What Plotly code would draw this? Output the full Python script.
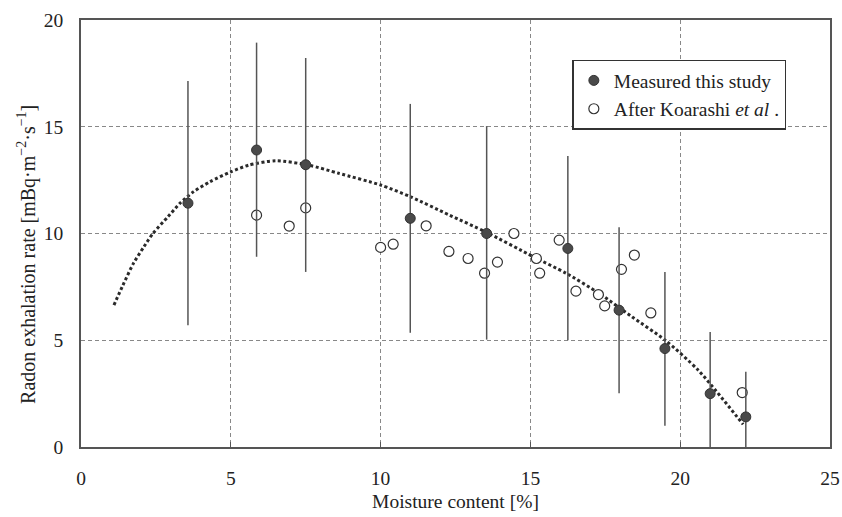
import plotly.graph_objects as go

# Measured this study
meas_x = [3.57, 5.86, 7.5, 10.99, 13.54, 16.25, 17.96, 19.49, 21.0, 22.19]
meas_y = [11.42, 13.91, 13.22, 10.71, 10.0, 9.3, 6.41, 4.61, 2.5, 1.41]
meas_err_plus = [5.72, 5.03, 5.0, 5.36, 5.03, 4.33, 3.88, 3.59, 2.89, 2.11]
meas_err_minus = [5.72, 5.0, 5.02, 5.36, 4.97, 4.3, 3.89, 3.61, 2.78, 1.69]

# After Koarashi et al.
koa_x = [5.86, 6.95, 7.5, 10.0, 10.42, 11.52, 12.28, 12.92, 13.47, 13.9, 14.45,
         15.2, 15.31, 15.96, 16.52, 17.27, 17.48, 18.04, 18.47, 19.02, 22.07]
koa_y = [10.86, 10.35, 11.2, 9.35, 9.5, 10.36, 9.16, 8.83, 8.14, 8.66, 10.0,
         8.83, 8.14, 9.69, 7.3, 7.14, 6.61, 8.32, 8.99, 6.28, 2.55]

# Fitted trend (dotted curve)
fit_x = [1.1, 1.4, 1.75, 2.1, 2.4, 2.9, 3.3, 3.75, 4.3, 5.0, 5.6, 6.5, 7.6, 8.6,
         10.0, 11.0, 12.3, 13.5, 15.1, 16.2, 17.3, 18.4, 19.5, 20.6, 22.1]
fit_y = [6.65, 7.58, 8.6, 9.38, 10.0, 10.78, 11.41, 11.95, 12.42, 12.89, 13.2, 13.41,
         13.2, 12.82, 12.27, 11.72, 10.86, 10.08, 8.91, 8.13, 7.19, 6.09, 5.0, 3.6,
         1.06]

x_ticks = [0, 5, 10, 15, 20, 25]
y_ticks = [0, 5, 10, 15, 20]

FONT = "Liberation Serif, Tinos, Times New Roman, serif"
FS = 19.5

fig = go.Figure()

fig.add_trace(go.Scatter(
    x=fit_x, y=fit_y, mode="lines",
    line=dict(color="#2a2a2a", width=3, dash="3px,2.5px", shape="spline", smoothing=0.7),
    showlegend=False, hoverinfo="skip",
))

fig.add_trace(go.Scatter(
    x=koa_x, y=koa_y, mode="markers",
    name="After Koarashi <i>et al</i> .",
    marker=dict(symbol="circle", size=10, color="white",
                line=dict(color="#333333", width=1.2)),
    cliponaxis=False,
))

fig.add_trace(go.Scatter(
    x=meas_x, y=meas_y, mode="markers",
    name="Measured this study",
    marker=dict(symbol="circle", size=10, color="#4a4a4a",
                line=dict(color="#333333", width=1)),
    error_y=dict(type="data", symmetric=False, array=meas_err_plus,
                 arrayminus=meas_err_minus, color="#555555", thickness=1.5, width=0),
    cliponaxis=False,
))

fig.update_layout(
    width=842, height=517,
    margin=dict(l=81, r=12, t=20, b=70),
    paper_bgcolor="white", plot_bgcolor="white",
    font=dict(family=FONT, size=FS, color="#222222"),
    showlegend=True,
    legend=dict(
        x=0.656, y=0.907, xanchor="left", yanchor="top",
        bgcolor="white", bordercolor="#333333", borderwidth=1.5,
        font=dict(family=FONT, size=FS, color="#222222"),
        traceorder="reversed", itemsizing="trace",
        tracegroupgap=0, itemwidth=30,
    ),
    xaxis=dict(
        range=[0, 25], tickvals=x_ticks, ticktext=[str(v) for v in x_ticks],
        showgrid=True, gridcolor="#888888", griddash="4px,3px", gridwidth=1,
        showline=True, mirror=True, linecolor="#555555", linewidth=1.5,
        ticks="inside", ticklen=5, tickcolor="#555555",
        zeroline=False, ticklabelstandoff=13, automargin=False,
        tickfont=dict(family=FONT, size=FS),
        title=dict(text="Moisture content [%]", font=dict(family=FONT, size=FS), standoff=6),
    ),
    yaxis=dict(
        range=[0, 20], tickvals=y_ticks, ticktext=[str(v) for v in y_ticks],
        showgrid=True, gridcolor="#888888", griddash="4px,3px", gridwidth=1,
        showline=True, mirror=True, linecolor="#555555", linewidth=1.5,
        ticks="", zeroline=False, ticklabelstandoff=12, automargin=False,
        tickfont=dict(family=FONT, size=FS),
    ),
    annotations=[dict(
        text="Radon exhalation rate [mBq·m<sup>−2</sup>·s<sup>−1</sup>]",
        xref="paper", yref="paper", x=-0.072, y=0.45,
        xanchor="center", yanchor="middle", textangle=-90, showarrow=False,
        font=dict(family=FONT, size=20, color="#222222"),
    )],
)

fig.write_html("out.html")
